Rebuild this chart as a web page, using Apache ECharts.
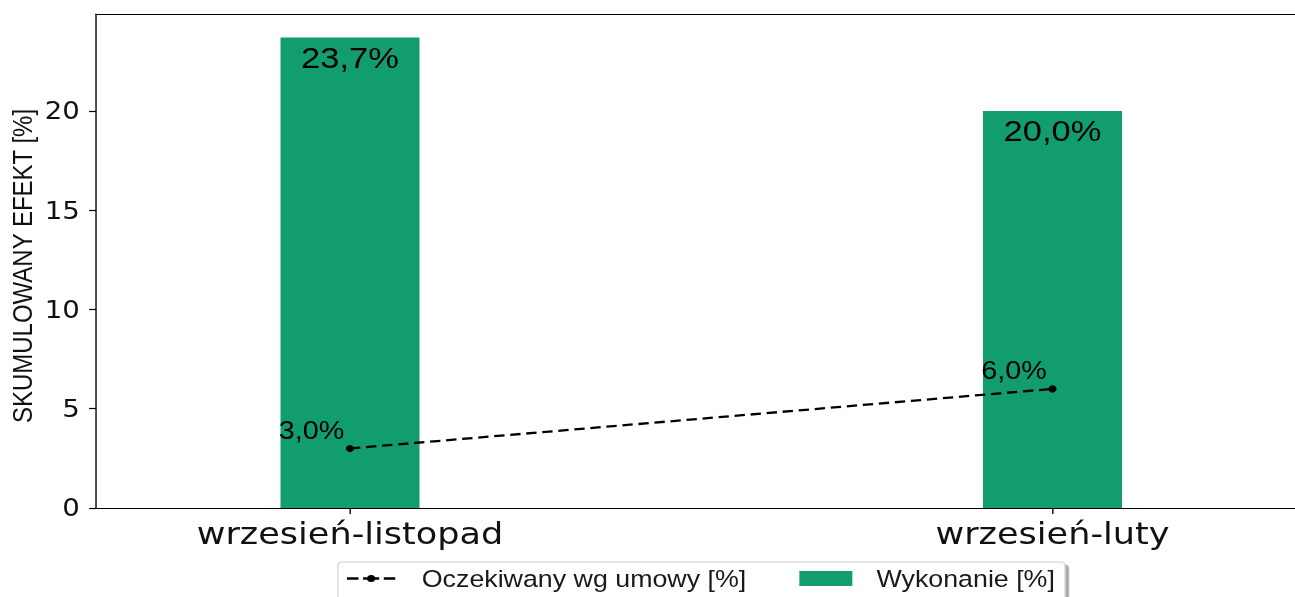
<!DOCTYPE html>
<html>
<head>
<meta charset="utf-8">
<script src="https://cdn.jsdelivr.net/npm/echarts@6/dist/echarts.min.js"></script>
<style>
html,body{margin:0;padding:0;background:#fff;overflow:hidden;}
#wrap{width:1295px;height:597px;overflow:hidden;position:relative;}
#chart{position:absolute;left:0;top:0;height:597px;transform-origin:0 0;}
</style>
</head>
<body>
<div id="wrap"><div id="chart"></div></div>
<script>
// ---- data ----
const categories = ['wrzesień-listopad', 'wrzesień-luty'];
const wykonanie = [23.7, 20.0];
const oczekiwany = [3.0, 6.0];
const yTicks = [0, 5, 10, 15, 20];
const seriesNames = ['Oczekiwany wg umowy [%]', 'Wykonanie [%]'];

// ---- layout (horizontal stretch of the reference picture) ----
const S = 1.15;
const W = 1295 / S;
const el = document.getElementById('chart');
el.style.width = W + 'px';
el.style.transform = 'scaleX(' + S + ')';

const px = v => v / S; // picture x -> layout x
const plotLeft = px(96);
const c0 = px(350), c1 = px(1052.5);
const unit = c1 - c0;
const xMin = -(c0 - plotLeft) / unit;
const xMax = xMin + (W - plotLeft) / unit;

const fmt = v => v.toFixed(1).replace('.', ',') + '%';
const idx = categories.map((c, i) => i);

const lineIcon = 'path://M21 0h0.01v0.01h-0.01z M21 15h0.01v0.01h-0.01z ' +
  'M0 6.3h10v2.4h-10z M14 6.3h14v2.4h-14z M32 6.3h10v2.4h-10z ' +
  'M24.5 7.5A3.5 3.5 0 1 1 17.5 7.5A3.5 3.5 0 1 1 24.5 7.5z';

const chart = echarts.init(el, null, {renderer: 'svg', width: W, height: 597});
chart.setOption({
  animation: false,
  backgroundColor: '#fff',
  grid: {left: plotLeft, top: 14, right: 0, height: 494, show: false, containLabel: false, outerBoundsMode: 'none'},
  legend: {
    left: px(338), top: 562,
    orient: 'horizontal',
    itemWidth: px(53), itemHeight: 15,
    itemGap: px(53),
    padding: [5, px(10), 12, px(9)],
    backgroundColor: '#fff',
    borderColor: '#d0d0d0', borderWidth: 1, borderRadius: 3,
    shadowColor: 'rgba(0,0,0,0.35)', shadowBlur: 0, shadowOffsetX: 3, shadowOffsetY: 3,
    textStyle: {fontFamily: 'Liberation Sans', fontSize: 23.3, color: '#1a1a1a', padding: [0, 0, 0, 16]},
    data: [
      {name: seriesNames[0], icon: lineIcon, itemStyle: {color: '#000'}},
      {name: seriesNames[1], icon: 'rect'}
    ]
  },
  xAxis: [{
    type: 'value', min: xMin, max: xMax,
    splitLine: {show: false},
    axisLine: {show: true, onZero: false, lineStyle: {color: '#000', width: 1.2}},
    axisTick: {show: true, length: 6, customValues: idx, lineStyle: {color: '#000', width: 1.2}},
    axisLabel: {
      customValues: idx, margin: 10,
      formatter: v => categories[Math.round(v)] || '',
      fontFamily: 'DejaVu Sans', fontSize: 30.5, color: '#111'
    }
  }, {
    type: 'value', position: 'top', min: xMin, max: xMax,
    splitLine: {show: false},
    axisLine: {show: true, onZero: false, lineStyle: {color: '#000', width: 1.2}},
    axisTick: {show: false}, axisLabel: {show: false}
  }],
  yAxis: {
    type: 'value', min: 0, max: 24.885,
    name: 'SKUMULOWANY EFEKT [%]', nameLocation: 'middle', nameGap: 52, nameMoveOverlap: false,
    nameTextStyle: {fontFamily: 'Liberation Sans', fontSize: 24, color: '#111', padding: [0, 10, 0, 0]},
    splitLine: {show: false},
    axisLine: {show: true, onZero: false, lineStyle: {color: '#000', width: 1.2}},
    axisTick: {show: true, length: 6, customValues: yTicks, lineStyle: {color: '#000', width: 1.2}},
    axisLabel: {customValues: yTicks, margin: 14, fontFamily: 'DejaVu Sans', fontSize: 24, color: '#111'}
  },
  series: [
    {
      name: seriesNames[1], type: 'bar', barWidth: px(139),
      itemStyle: {color: '#129d6e'},
      data: wykonanie.map((v, i) => [i, v]),
      label: {
        show: true, position: 'insideTop', distance: 5,
        formatter: p => fmt(p.value[1]),
        fontFamily: 'Liberation Sans', fontSize: 30, color: '#000'
      },
      z: 2
    },
    {
      name: seriesNames[0], type: 'line',
      data: oczekiwany.map((v, i) => [i, v]),
      symbol: 'circle', symbolSize: 7,
      itemStyle: {color: '#000'},
      lineStyle: {color: '#000', width: 2.3, type: [9, 5]},
      label: {
        show: true, position: 'top', align: 'right', distance: 2, offset: [-5, 0],
        formatter: p => fmt(p.value[1]),
        fontFamily: 'Liberation Sans', fontSize: 25, color: '#000'
      },
      z: 3
    }
  ]
});
</script>
</body>
</html>
